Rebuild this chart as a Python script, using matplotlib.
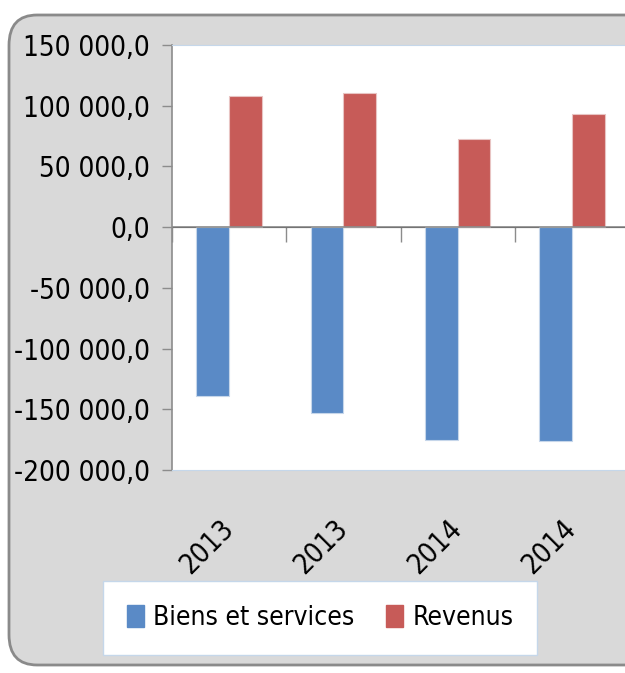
import matplotlib.pyplot as plt
import numpy as np
from matplotlib.patches import FancyBboxPatch, Patch
from matplotlib.ticker import FuncFormatter

plt.rcParams['font.family'] = ['DejaVu Sans']
plt.rcParams['font.stretch'] = 'condensed'

# data
years = ['2013', '2013', '2014', '2014']
biens = [-138900, -153000, -174900, -176500]
revenus = [108200, 110100, 72500, 92800]

blue = '#5a8ac6'
red = '#c75b58'

fig = plt.figure(figsize=(6.25, 6.73), dpi=100)

# rounded grey chart area
frame = FancyBboxPatch((9/625, 8/673), 660/625, 650/673,
                       boxstyle='round,pad=0,rounding_size=0.045',
                       transform=fig.transFigure, facecolor='#d9d9d9',
                       edgecolor='#8a8a8a', linewidth=2, zorder=-5)
fig.patches.append(frame)

ax = fig.add_axes([172/625, 1 - 470/673, 457/625, 425/673])
ax.set_facecolor('white')

x = np.arange(len(years))
w = 0.286
ax.bar(x - w/2, biens, w, color=blue, edgecolor='#c6d6ea', linewidth=0.8, zorder=3)
ax.bar(x + w/2, revenus, w, color=red, edgecolor='#e8c4c3', linewidth=0.8, zorder=3)

ax.set_xlim(-0.5, 3.5)
ax.set_ylim(-200000, 150000)
ax.set_yticks(np.arange(-200000, 150001, 50000))

def fmt(v, pos):
    s = f'{abs(v):,.1f}'.replace(',', ' ').replace('.', ',')
    return ('-' if v < 0 else '') + s

ax.yaxis.set_major_formatter(FuncFormatter(fmt))
ax.tick_params(axis='y', labelsize=20, length=7, width=1, color='#8c8c8c', pad=9)

ax.set_xticks(x)
ax.set_xticklabels(years, rotation=45, ha='right', va='center',
                   rotation_mode='anchor', fontsize=20)
ax.tick_params(axis='x', length=0, pad=39)

for side in ['top', 'bottom', 'right']:
    ax.spines[side].set_color('#c5d7ea')
ax.spines['left'].set_color('#8c8c8c')
ax.spines['left'].set_linewidth(1.2)

# horizontal axis drawn at zero with ticks between categories
zero = ax.secondary_xaxis(200/350)
zero.set_xticks([-0.5, 0.5, 1.5, 2.5, 3.5])
zero.set_xticklabels([])
zero.tick_params(length=11, width=1, color='#8c8c8c', direction='in')
zero.spines['bottom'].set_color('#8c8c8c')
zero.spines['bottom'].set_linewidth(1.2)
ax.axhline(0, color='#8c8c8c', linewidth=1.2, zorder=4)

handles = [Patch(color=blue), Patch(color=red)]
leg = fig.legend(handles, ['Biens et services', 'Revenus'], loc='center',
                 bbox_to_anchor=(320/625, 1 - 618/673), ncol=2, fontsize=19,
                 frameon=True, fancybox=False, framealpha=1,
                 handlelength=0.65, handleheight=0.9,
                 handletextpad=0.35, columnspacing=1.2, borderpad=0.9,
                 borderaxespad=0)
leg.get_frame().set_edgecolor('#c5d7ea')
leg.get_frame().set_facecolor('white')
leg.get_frame().set_linewidth(1)

fig.savefig('out.png', dpi=100)
